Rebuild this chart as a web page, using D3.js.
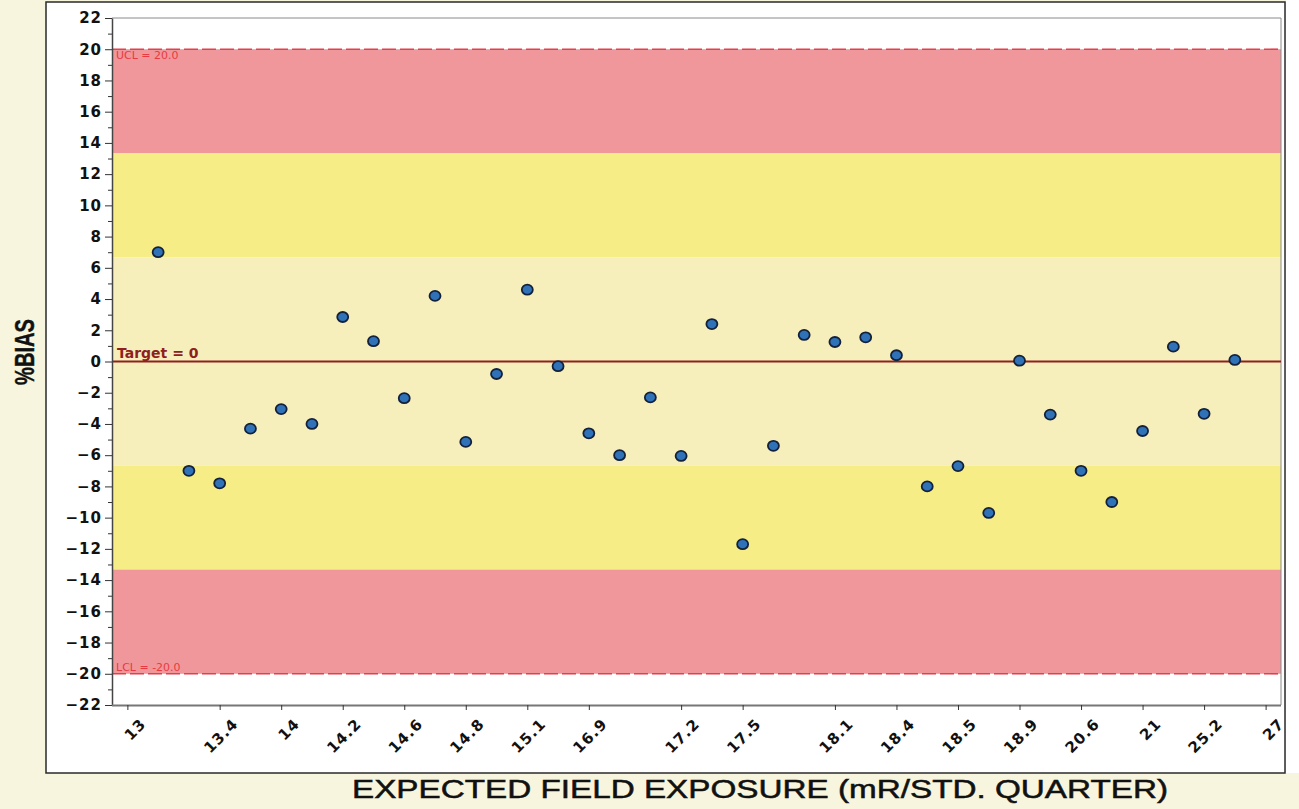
<!DOCTYPE html>
<html lang="en">
<head>
    <meta charset="UTF-8">
    <title>%BIAS control chart</title>
    <style>
        body { margin: 0; background: #f7f5de; }
        svg { display: block; }
    </style>
</head>
<body>
<script src="https://cdn.jsdelivr.net/npm/d3@7"></script>
<script>
    const width = 1299, height = 809;
    const margin = ({top: 18, right: 18, bottom: 104, left: 112});

    // 38 category slots on the x axis, only some of them carry a label
    const slots = d3.range(38);
    const tickSlots = [0, 3, 5, 7, 9, 11, 13, 15, 18, 20, 23, 25, 27, 29, 31, 33, 35, 37];
    const tickLabels = ["13", "13.4", "14", "14.2", "14.6", "14.8", "15.1", "16.9", "17.2",
                        "17.5", "18.1", "18.4", "18.5", "18.9", "20.6", "21", "25.2", "27"];

    // measured %bias, one per slot starting at slot 1
    const pointSlots = d3.range(1, 37);
    const bias = [7.0, -7.0, -7.8, -4.3, -3.05, -4.0, 2.85, 1.3, -2.35, 4.2, -5.15, -0.8,
                  4.6, -0.3, -4.6, -6.0, -2.3, -6.05, 2.4, -11.7, -5.4, 1.7, 1.25, 1.55,
                  0.4, -8.0, -6.7, -9.7, 0.05, -3.4, -7.0, -9.0, -4.45, 0.95, -3.35, 0.1];

    const target = 0, ucl = 20, lcl = -20;
    // zone limits: red / yellow / pale yellow
    const zones = [
        {from: 13.33, to: 20, color: "#f0979b"},
        {from: 6.67, to: 13.33, color: "#f6ed86"},
        {from: -6.67, to: 6.67, color: "#f7efbb"},
        {from: -13.33, to: -6.67, color: "#f6ed86"},
        {from: -20, to: -13.33, color: "#f0979b"}
    ];

    const x = d3.scalePoint()
        .domain(slots)
        .range([margin.left, width - margin.right])
        .padding(0.5);

    const y = d3.scaleLinear()
        .domain([-22, 22])
        .range([height - margin.bottom, margin.top]);

    const svg = d3.select("body").append("svg")
        .attr("width", width)
        .attr("height", height);

    // outer frame
    svg.append("rect")
        .attr("x", 1286).attr("y", 0).attr("width", 13).attr("height", 773)
        .attr("fill", "#fff");
    svg.append("rect")
        .attr("x", 46).attr("y", 2).attr("width", 1239).attr("height", 771)
        .attr("fill", "#fff")
        .attr("stroke", "#2a2a2a")
        .attr("stroke-width", 1.5);

    // zones
    svg.append("g")
        .selectAll("rect")
        .data(zones)
        .join("rect")
        .attr("x", margin.left)
        .attr("width", width - margin.right - margin.left)
        .attr("y", d => y(d.to))
        .attr("height", d => y(d.from) - y(d.to))
        .attr("fill", d => d.color);

    // plot border top/right
    svg.append("path")
        .attr("d", `M${margin.left},${margin.top}H${width - margin.right}V${height - margin.bottom}`)
        .attr("fill", "none")
        .attr("stroke", "#8a8a8a");

    // control limits
    svg.append("g")
        .selectAll("line")
        .data([ucl, lcl])
        .join("line")
        .attr("x1", margin.left)
        .attr("x2", width - margin.right)
        .attr("y1", d => y(d))
        .attr("y2", d => y(d))
        .attr("stroke", "#e2404c")
        .attr("stroke-width", 1.6)
        .attr("stroke-dasharray", "14,4");

    svg.append("text")
        .attr("x", margin.left + 4)
        .attr("y", y(ucl) + 10)
        .attr("fill", "#e83a44")
        .style("font", "11px 'DejaVu Sans'")
        .text("UCL = 20.0");

    svg.append("text")
        .attr("x", margin.left + 4)
        .attr("y", y(lcl) - 3)
        .attr("fill", "#e83a44")
        .style("font", "11px 'DejaVu Sans'")
        .text("LCL = -20.0");

    // target line
    svg.append("line")
        .attr("x1", margin.left)
        .attr("x2", width - margin.right)
        .attr("y1", y(target))
        .attr("y2", y(target))
        .attr("stroke", "#8e2020")
        .attr("stroke-width", 2);

    svg.append("text")
        .attr("x", margin.left + 5)
        .attr("y", y(target) - 4)
        .attr("fill", "#8e2020")
        .style("font", "bold 14px 'DejaVu Sans'")
        .text("Target = 0");

    // points
    svg.append("g")
        .selectAll("ellipse")
        .data(bias)
        .join("ellipse")
        .attr("cx", (d, i) => x(pointSlots[i]))
        .attr("cy", d => y(d))
        .attr("rx", 5.5)
        .attr("ry", 5)
        .attr("fill", "#2f72b8")
        .attr("stroke", "#14213a")
        .attr("stroke-width", 1.8);

    // y axis, major ticks every 2 and minor on odd values
    svg.append("g")
        .attr("transform", `translate(${margin.left},0)`)
        .call(d3.axisLeft(y).tickValues(d3.range(-21, 22, 2)).tickSize(4).tickFormat(""))
        .call(g => g.select(".domain").remove())
        .call(g => g.selectAll("line").attr("stroke", "#333"));

    svg.append("g")
        .attr("transform", `translate(${margin.left},0)`)
        .call(d3.axisLeft(y).tickValues(d3.range(-22, 23, 2)).tickSize(7).tickPadding(3).tickSizeOuter(0))
        .call(g => g.select(".domain").attr("stroke", "#444").attr("stroke-width", 1.5))
        .call(g => g.selectAll("line").attr("stroke", "#333"))
        .call(g => g.selectAll("text")
            .attr("fill", "#111")
            .style("font", "bold 15px 'DejaVu Sans'")
            .style("letter-spacing", "1px"));

    // x axis
    svg.append("g")
        .attr("transform", `translate(0,${height - margin.bottom})`)
        .call(d3.axisBottom(x).tickValues(tickSlots)
            .tickFormat((d, i) => tickLabels[i])
            .tickSize(5).tickSizeOuter(0))
        .call(g => g.select(".domain")
            .attr("d", `M${margin.left},0.5H${width - margin.right}`)
            .attr("stroke", "#777").attr("stroke-width", 2))
        .call(g => g.selectAll("line").attr("stroke", "#333"))
        .call(g => g.selectAll("text")
            .attr("fill", "#111")
            .attr("text-anchor", "end")
            .attr("dy", 0)
            .attr("transform", "translate(19,20) rotate(-45)")
            .attr("y", 0)
            .style("font", "bold 15px 'DejaVu Sans'")
            .style("letter-spacing", "1px"));

    // axis titles
    svg.append("text")
        .attr("transform", "translate(34,352) rotate(-90)")
        .attr("text-anchor", "middle")
        .attr("fill", "#111")
        .attr("stroke", "#111")
        .attr("stroke-width", 0.4)
        .attr("textLength", 66)
        .attr("lengthAdjust", "spacingAndGlyphs")
        .style("font", "bold 27px 'Liberation Sans', Arial")
        .text("%BIAS");

    svg.append("text")
        .attr("x", 760)
        .attr("y", 798)
        .attr("text-anchor", "middle")
        .attr("fill", "#111")
        .attr("stroke", "#111")
        .attr("stroke-width", 0.5)
        .attr("textLength", 816)
        .attr("lengthAdjust", "spacingAndGlyphs")
        .style("font", "25px 'Liberation Sans', Arial")
        .text("EXPECTED FIELD EXPOSURE (mR/STD. QUARTER)");
</script>
</body>
</html>
